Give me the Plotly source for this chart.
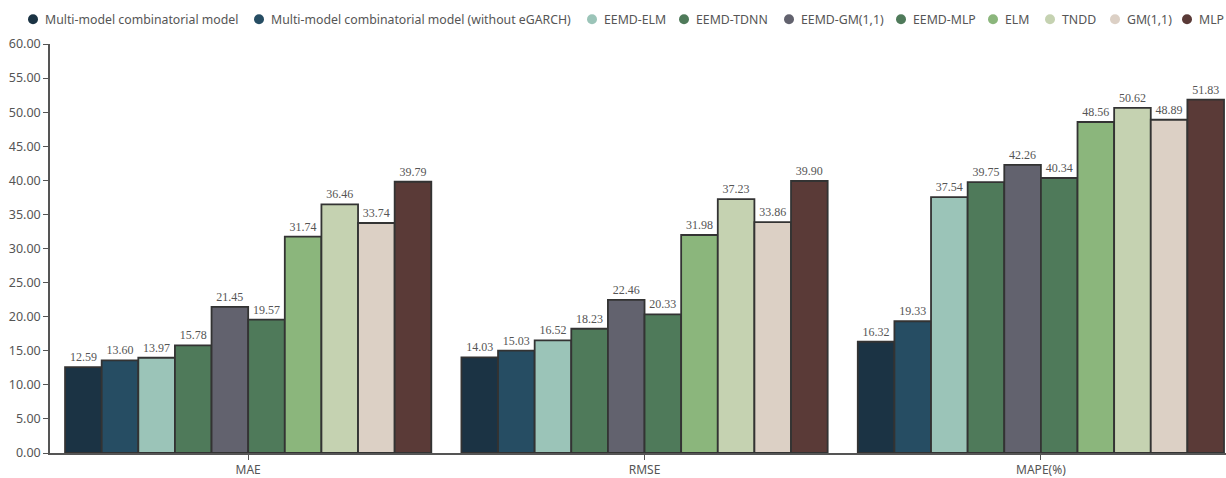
import plotly.graph_objects as go

categories = ["MAE", "RMSE", "MAPE(%)"]
models = ["Multi-model combinatorial model", "Multi-model combinatorial model (without eGARCH)",
          "EEMD-ELM", "EEMD-TDNN", "EEMD-GM(1,1)", "EEMD-MLP", "ELM", "TNDD", "GM(1,1)", "MLP"]
mae = [12.59, 13.60, 13.97, 15.78, 21.45, 19.57, 31.74, 36.46, 33.74, 39.79]
rmse = [14.03, 15.03, 16.52, 18.23, 22.46, 20.33, 31.98, 37.23, 33.86, 39.90]
mape = [16.32, 19.33, 37.54, 39.75, 42.26, 40.34, 48.56, 50.62, 48.89, 51.83]
colors = ["#1b3344", "#264d63", "#9bc4b8", "#4f7a5a", "#62626e",
          "#4f7a5a", "#8bb67c", "#c5d2b1", "#dcd0c5", "#5a3a37"]
# legend layout (pixel x of each legend text start)
legend_text_x = [43, 269, 602, 694, 799, 911, 1003, 1060, 1125, 1197]

W, H = 1226, 478
ML, MR, MT, MB = 50, 0, 44, 20
PW, PH = W - ML - MR, H - MT - MB

label_font = dict(family="Liberation Serif, serif", size=12, color="#555555")

fig = go.Figure()
for i, m in enumerate(models):
    vals = [mae[i], rmse[i], mape[i]]
    fig.add_trace(go.Bar(
        x=categories, y=vals, name=m, showlegend=False,
        marker=dict(color=colors[i], line=dict(color="#333333", width=1.8)),
        text=[f"{v:.2f}" for v in vals], textposition="outside",
        textfont=label_font, outsidetextfont=label_font,
        cliponaxis=False,
    ))

# manual legend: circles + labels
ly = 1 + (MT - 19) / PH
for i, m in enumerate(models):
    tx = (legend_text_x[i] - ML) / PW
    cx = (legend_text_x[i] - 10 - ML) / PW
    fig.add_shape(type="circle", xref="paper", yref="paper",
                  xsizemode="pixel", ysizemode="pixel",
                  xanchor=cx, yanchor=ly, x0=-5, x1=5, y0=-5, y1=5,
                  fillcolor=colors[i], line=dict(width=0))
    fig.add_annotation(x=tx, y=ly, xref="paper", yref="paper", text=m,
                       showarrow=False, xanchor="left", yanchor="middle",
                       font=dict(size=12.3, color="#555555"))

fig.update_layout(
    width=W, height=H,
    margin=dict(l=ML, r=MR, t=MT, b=MB),
    paper_bgcolor="white", plot_bgcolor="white",
    barmode="group", bargap=0.076, bargroupgap=0,
    font=dict(family="Noto Sans, sans-serif", size=12, color="#666666"),
    showlegend=False,
    xaxis=dict(range=[-0.5, 2.467], showline=True, linecolor="#555555", linewidth=1.5,
               ticks="outside", ticklen=5, tickcolor="#555555", showgrid=False,
               tickfont=dict(size=12, color="#555555")),
    yaxis=dict(range=[0, 60], dtick=5, tickformat=".2f", showline=True,
               linecolor="#555555", linewidth=1.5, ticks="outside", ticklen=5,
               tickcolor="#555555", showgrid=False, zeroline=False,
               tickfont=dict(size=12.5, color="#555555")),
)
fig.write_html("out.html")
